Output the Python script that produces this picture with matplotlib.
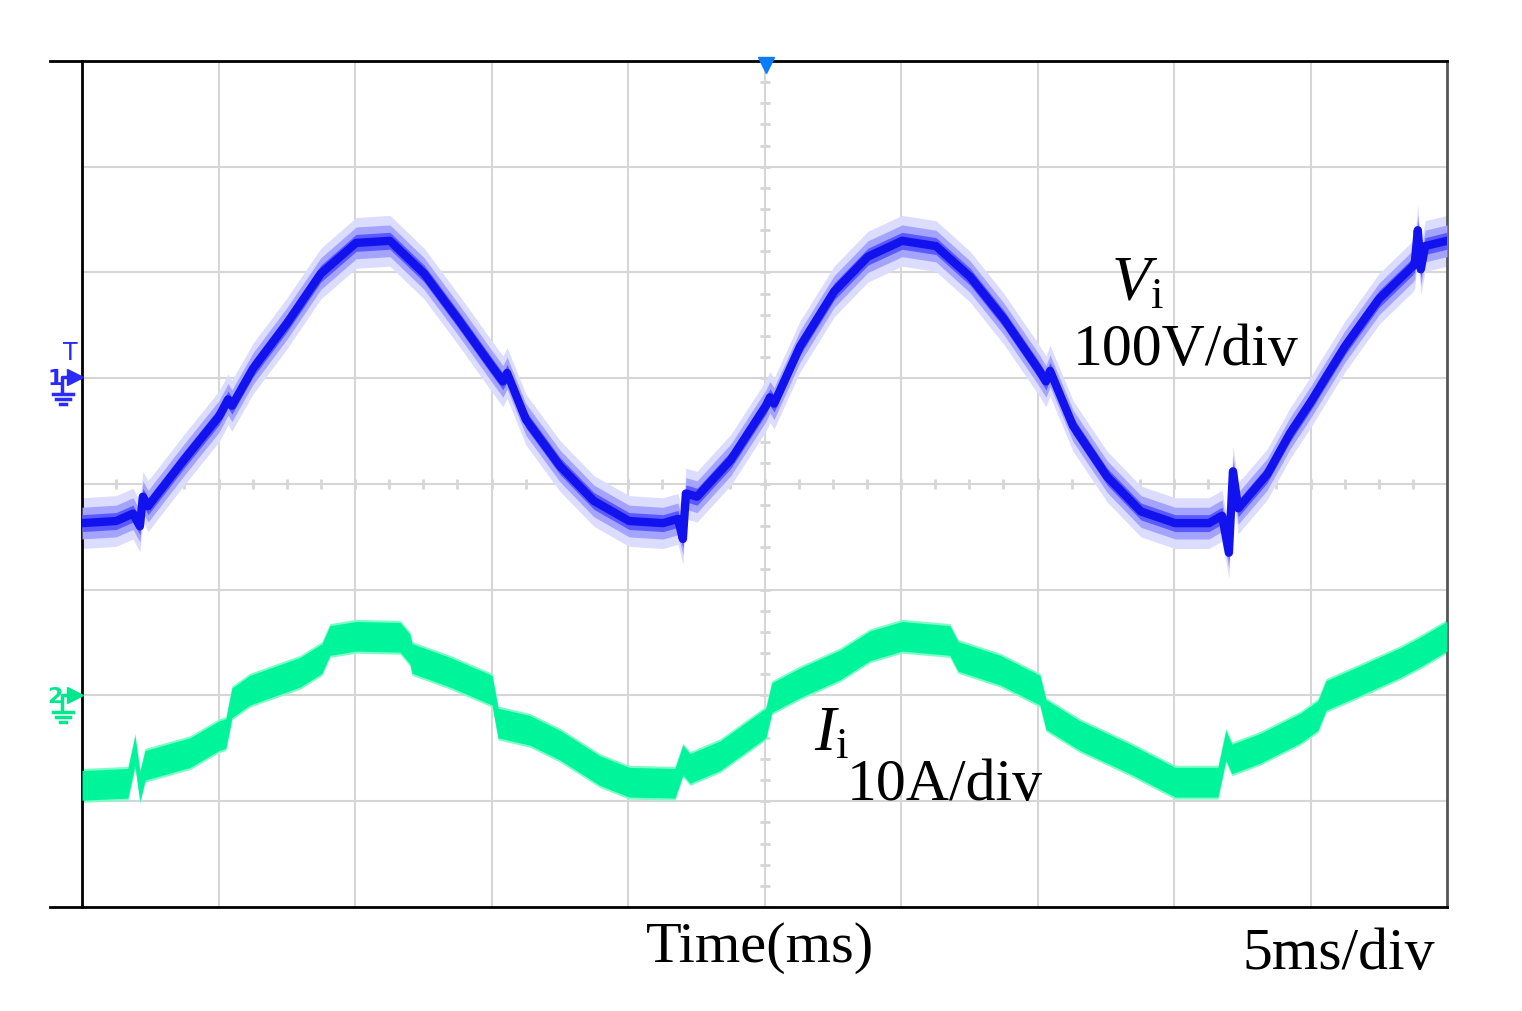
import numpy as np
import matplotlib
matplotlib.use("Agg")
import matplotlib.pyplot as plt

# oscilloscope capture, values
# Vi: time (ms) / volts, relative to the channel 1 ground marker
vi_t = [0.0, 1.25, 1.87, 2.12, 2.23, 2.42, 3.74, 5.02, 5.35, 5.49, 6.26, 7.51, 8.75,
        10.04, 11.28, 12.53, 13.77, 15.02, 15.42, 15.57, 16.26, 17.51, 18.75, 20.04,
        21.28, 21.83, 22.01, 22.12, 22.53, 23.77, 25.05, 25.2, 25.35, 26.3, 27.55,
        28.79, 30.04, 31.28, 32.53, 33.77, 35.02, 35.31, 35.46, 36.3, 37.55, 38.79,
        40.04, 41.28, 41.76, 42.01, 42.16, 42.35, 43.41, 44.25, 45.02, 45.35, 46.26,
        47.51, 48.75, 48.82, 48.93, 49.04, 49.2, 50.0]
vi_v = [-137, -135, -128, -140, -112, -121, -77, -36, -20, -26, 9, 52, 99,
        128, 130, 99, 56, 11, -3, 5, -39, -83, -116, -135,
        -137, -133, -152, -109, -112, -77, -26, -18, -24, 30, 82,
        115, 130, 125, 96, 56, 9, -3, 7, -45, -93, -126,
        -137, -137, -130, -165, -88, -123, -91, -52, -22, -8, 30,
        75, 106, 109, 140, 103, 125, 130]

# Ii: time (ms) / amps, relative to the channel 2 ground marker
ii_t = [0.0, 1.68, 1.94, 2.12, 2.31, 3.96, 5.02, 5.27, 5.49, 6.15, 7.99, 8.79, 9.08,
        10.04, 11.65, 12.01, 12.09, 13.48, 15.02, 15.24, 16.41, 17.51, 18.97, 20.04,
        21.72, 22.01, 22.27, 23.37, 25.05, 25.27, 26.3, 27.77, 28.86, 30.04, 31.79,
        32.09, 33.63, 35.09, 35.31, 36.56, 38.39, 40.04, 41.61, 41.9, 42.12, 43.15,
        44.62, 45.27, 45.57, 46.81, 48.28, 49.01, 50.0]
ii_a = [-8.5, -8.3, -5.2, -8.6, -6.6, -5.4, -3.8, -3.6, -0.7, 0.5, 2.2, 3.5, 5.2,
        5.6, 5.5, 4.4, 3.5, 2.2, 0.5, -2.6, -3.3, -4.7, -7.1, -8.2,
        -8.3, -6.1, -6.9, -5.7, -2.6, -0.2, 1.2, 2.9, 4.7, 5.6, 5.2,
        3.7, 2.4, 0.5, -1.8, -3.8, -6.0, -8.2, -8.2, -4.7, -6.0, -5.0,
        -3.1, -1.9, 0.0, 1.4, 3.1, 4.1, 5.6]

VI_SCALE, VI_OFFSET = 100.0, 1.0   # 100 V/div, ground at +1 div
II_SCALE, II_OFFSET = 10.0, -2.0   # 10 A/div, ground at -2 div
BLUE = '#1212ee'
GREEN = '#00f59b'
GRIDC = '#d6d6d6'

plt.rcParams['font.family'] = ['Liberation Serif', 'DejaVu Serif']
plt.rcParams['mathtext.fontset'] = 'custom'
plt.rcParams['mathtext.rm'] = 'Liberation Serif'
plt.rcParams['mathtext.it'] = 'Liberation Serif:italic'

W, H = 1522, 1011
fig = plt.figure(figsize=(W / 100, H / 100), dpi=100)
L, R, T, B = 82, 1447, 61, 907
ax = fig.add_axes([L / W, 1 - B / H, (R - L) / W, (B - T) / H])
ax.set_xlim(0, 50)
ax.set_ylim(-4, 4)

# screen grid
for x in np.arange(5, 50, 5):
    ax.axvline(x, color=GRIDC, lw=1.5, zorder=1)
for y in np.arange(-3, 4, 1):
    ax.axhline(y, color=GRIDC, lw=1.5, zorder=1)
# small ticks on the centre cross
ax.plot(np.full(41, 25.0), np.arange(-20, 21) * 0.2, ls='none', marker='_',
        ms=7, mew=2, color=GRIDC, zorder=1)
ax.plot(np.arange(1, 40) * 1.25, np.zeros(39), ls='none', marker='|',
        ms=7, mew=2, color=GRIDC, zorder=1)

# Vi trace: noisy band + core
vt = np.array(vi_t)
vy = np.array(vi_v) / VI_SCALE + VI_OFFSET
ax.fill_between(vt, vy - 0.24, vy + 0.24, color='#dcdcff', lw=0, zorder=2)
ax.fill_between(vt, vy - 0.15, vy + 0.15, color='#a4a4ff', lw=0, zorder=3)
ax.fill_between(vt, vy - 0.08, vy + 0.08, color='#5a5aff', lw=0, zorder=3)
ax.plot(vt, vy, color=BLUE, lw=6, solid_joinstyle='round', zorder=4)

# Ii trace
it = np.array(ii_t)
iy = np.array(ii_a) / II_SCALE + II_OFFSET
ax.fill_between(it, iy - 0.16, iy + 0.16, color='#7dfcc8', lw=0, zorder=2)
ax.fill_between(it, iy - 0.14, iy + 0.14, color=GREEN, lw=0, zorder=3)

ax.set_xticks([])
ax.set_yticks([])
for side in ['left', 'top', 'bottom']:
    ax.spines[side].set_color('black')
    ax.spines[side].set_linewidth(2)
ax.spines['right'].set_color('#555555')
ax.spines['right'].set_linewidth(2)

# labels
ax.text(37.7, 1.74, r'$V_{\mathrm{i}}$', fontsize=46, ha='left', va='baseline', zorder=6)
ax.text(36.3, 1.13, '100V/div', fontsize=43, ha='left', va='baseline', zorder=6)
ax.text(26.8, -2.52, r'$I_{\mathrm{i}}$', fontsize=46, ha='left', va='baseline', zorder=6)
ax.text(28.0, -2.99, '10A/div', fontsize=43, ha='left', va='baseline', zorder=6)

# overlay in pixel coordinates for the scope decorations
ov = fig.add_axes([0, 0, 1, 1], facecolor='none')
ov.set_xlim(0, W)
ov.set_ylim(H, 0)
ov.axis('off')
ov.plot([50, L], [T, T], color='black', lw=2)
ov.plot([50, L], [B, B], color='black', lw=2)
ov.plot([766], [65], marker='v', ms=12, color='#0a7cff', clip_on=False)


def channel_marker(yc, color, num, trig=False):
    ov.text(55, yc + 2, num, fontsize=16, color=color, ha='center', va='center',
            family='DejaVu Sans', fontweight='bold')
    ov.plot([62, 62, 72], [yc + 16, yc, yc], color=color, lw=2.5)
    ov.plot([75], [yc], marker='>', ms=11, color=color)
    for i, hw in enumerate([10, 7, 3]):
        ov.plot([63 - hw, 63 + hw], [yc + 17 + 5 * i] * 2, color=color, lw=2.5)
    if trig:
        ov.text(70, yc - 24, 'T', fontsize=17, color=color, ha='center', va='center',
                family='DejaVu Sans')


channel_marker(377, '#2a2aff', '1', trig=True)
channel_marker(695, '#00e88f', '2')

fig.text(760 / W, 1 - 948 / H, 'Time(ms)', fontsize=42, ha='center', va='center')
fig.text(1435 / W, 1 - 955 / H, '5ms/div', fontsize=43, ha='right', va='center')

fig.savefig('out.png', dpi=100, facecolor='white')
